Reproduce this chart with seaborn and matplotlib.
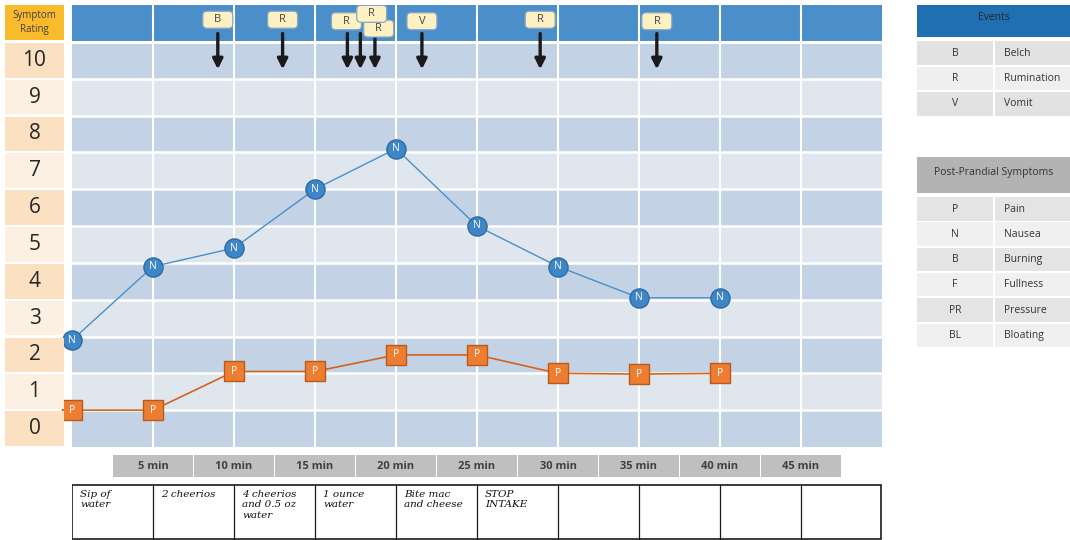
import numpy as np
import pandas as pd
import matplotlib
matplotlib.use("Agg")
import matplotlib.pyplot as plt
from matplotlib.patches import Rectangle, FancyBboxPatch
import seaborn as sns

# data
times = [0, 5, 10, 15, 20, 25, 30, 35, 40]
nausea = [2.9, 4.9, 5.4, 7.0, 8.1, 6.0, 4.9, 4.05, 4.05]
pain = [1.0, 1.0, 2.05, 2.05, 2.5, 2.5, 2.0, 1.98, 2.0]

event_times = [9, 13, 17, 17.8, 18.7, 21.6, 28.9, 36.1]
event_codes = ["B", "R", "R", "R", "R", "V", "R", "R"]

ratings = list(range(11))
time_labels = ["5 min", "10 min", "15 min", "20 min", "25 min", "30 min", "35 min", "40 min", "45 min"]
intake_notes = ["Sip of\nwater", "2 cheerios", "4 cheerios\nand 0.5 oz\nwater", "1 ounce\nwater",
                "Bite mac\nand cheese", "STOP\nINTAKE", "", "", "", ""]

event_legend = [("B", "Belch"), ("R", "Rumination"), ("V", "Vomit")]
symptom_legend = [("P", "Pain"), ("N", "Nausea"), ("B", "Burning"), ("F", "Fullness"),
                  ("PR", "Pressure"), ("BL", "Bloating")]

df = pd.DataFrame({"time": times, "Nausea": nausea, "Pain": pain})

sns.set_theme(style="white")
plt.rcParams["font.family"] = ["Open Sans", "DejaVu Sans"]

W, H = 1070, 540
fig = plt.figure(figsize=(10.7, 5.4), dpi=100)


def px_axes(x0, y0, x1, y1):
    return fig.add_axes([x0 / W, 1 - y1 / H, (x1 - x0) / W, (y1 - y0) / H])


# ---- main chart ----
ax = px_axes(72, 5, 882, 447)
ax.set_xlim(0, 50)
ax.set_ylim(0, 12)
dark_row, light_row = "#c3d3e5", "#dfe6ee"
for r in ratings:
    ax.axhspan(r, r + 1, color=dark_row if r % 2 == 0 else light_row, lw=0, zorder=0)
ax.axhspan(11, 12, color="#4a8fc9", lw=0, zorder=0)
for r in range(1, 12):
    ax.axhline(r, color="white", lw=2.2 if r == 11 else 1.8, zorder=1)
for t in range(5, 50, 5):
    ax.axvline(t, color="white", lw=1.5, zorder=1)

sns.lineplot(data=df, x="time", y="Nausea", ax=ax, color="#4a8fc9", lw=1, zorder=2)
sns.lineplot(data=df, x="time", y="Pain", ax=ax, color="#d4631c", lw=1.2, zorder=2)
sns.scatterplot(data=df, x="time", y="Nausea", ax=ax, marker="o", s=190, color="#3f86c6",
                edgecolor="#2d6aa3", linewidth=1, zorder=3, clip_on=False)
sns.scatterplot(data=df, x="time", y="Pain", ax=ax, marker="s", s=210, color="#ed7d31",
                edgecolor="#b85a1c", linewidth=1, zorder=3, clip_on=False)
for t, n, p in zip(times, nausea, pain):
    ax.text(t, n, "N", color="white", fontsize=7.5, ha="center", va="center", zorder=4)
    ax.text(t, p, "P", color="white", fontsize=7.5, ha="center", va="center", zorder=4)

# events: arrows with labels
label_dx = [0, 0, -0.06, 0.7, 0.23, 0, 0, 0]
label_y = [11.6, 11.6, 11.56, 11.76, 11.36, 11.56, 11.6, 11.56]
order = [0, 1, 2, 4, 3, 5, 6, 7]
bw, bh = 1.85, 0.46  # label box size in data units (~30 x 17 px)
for i in order:
    t = event_times[i]
    ax.annotate("", xy=(t, 10.18), xytext=(t, 11.3),
                arrowprops=dict(arrowstyle="-|>", color="#1a1a1a", lw=2.4, mutation_scale=15),
                zorder=5)
    cx, cy = t + label_dx[i], label_y[i]
    ax.add_patch(FancyBboxPatch((cx - bw / 2, cy - bh / 2), bw, bh,
                                boxstyle="round,pad=0,rounding_size=0.25", mutation_aspect=0.44,
                                fc="#fdf1c4", ec="#8aa6c2", lw=0.9, zorder=6))
    ax.text(cx, cy, event_codes[i], fontsize=8, color="#444444",
            ha="center", va="center", zorder=7)
ax.set_xlabel("")
ax.set_ylabel("")
ax.set_xticks([])
ax.set_yticks([])
for s in ax.spines.values():
    s.set_visible(False)

# ---- symptom rating column ----
axr = px_axes(5, 5, 64, 447)
axr.set_xlim(0, 1)
axr.set_ylim(0, 12)
for r in ratings:
    axr.add_patch(Rectangle((0, r + 0.03), 1, 0.94, color="#fce0c2" if r % 2 == 0 else "#fbf0e1", lw=0))
    axr.text(0.5, r + 0.5, str(r), ha="center", va="center", fontsize=15, color="#262626")
axr.add_patch(Rectangle((0, 11.05), 1, 0.95, color="#f9bb2c", lw=0))
axr.text(0.5, 11.52, "Symptom\nRating", ha="center", va="center", fontsize=7,
         color="#404040", linespacing=1.3)
axr.axis("off")

# ---- time labels and intake table ----
axb = px_axes(72, 450, 882, 540)
axb.set_xlim(0, 50)
axb.set_ylim(90, 0)
for t, lab in zip(range(5, 50, 5), time_labels):
    axb.add_patch(Rectangle((t - 2.45, 5), 4.9, 22, color="#bfbfbf", lw=0))
    axb.text(t, 16.5, lab, ha="center", va="center", fontsize=8, fontweight="bold", color="#404040")
axb.add_patch(Rectangle((0, 35), 49.95, 54, fill=False, ec="#1a1a1a", lw=1.2))
for t in range(5, 50, 5):
    axb.plot([t, t], [35, 89], color="#1a1a1a", lw=0.9)
for i, note in enumerate(intake_notes):
    axb.text(i * 5 + 0.5, 40, note, ha="left", va="top", fontsize=7.5, color="#111111",
             family=["DejaVu Serif"], style="italic", linespacing=1.2)
axb.axis("off")

# ---- legends on the right ----
axl = px_axes(917, 0, 1070, 350)
axl.set_xlim(0, 153)
axl.set_ylim(350, 0)
axl.add_patch(Rectangle((0, 5), 153, 32, color="#1f6fb2", lw=0))
axl.text(76.5, 18, "Events", ha="center", va="center", fontsize=7.5, color="#262626")
y = 41
for i, (code, name) in enumerate(event_legend):
    c = "#e2e2e2" if i % 2 == 0 else "#efefef"
    axl.add_patch(Rectangle((0, y), 76, 23.5, color=c, lw=0))
    axl.add_patch(Rectangle((78, y), 75, 23.5, color=c, lw=0))
    axl.text(38, y + 12, code, ha="center", va="center", fontsize=7.5, color="#333333")
    axl.text(87, y + 12, name, ha="left", va="center", fontsize=7.5, color="#333333")
    y += 25.5

axl.add_patch(Rectangle((0, 157), 153, 36, color="#b3b3b3", lw=0))
axl.text(76.5, 173, "Post-Prandial Symptoms", ha="center", va="center", fontsize=7.5, color="#333333")
y = 197
for i, (code, name) in enumerate(symptom_legend):
    c = "#e4e4e4" if i % 2 == 0 else "#f0f0f0"
    axl.add_patch(Rectangle((0, y), 76, 23.5, color=c, lw=0))
    axl.add_patch(Rectangle((78, y), 75, 23.5, color=c, lw=0))
    axl.text(38, y + 12, code, ha="center", va="center", fontsize=7.5, color="#333333")
    axl.text(87, y + 12, name, ha="left", va="center", fontsize=7.5, color="#333333")
    y += 25.3
axl.axis("off")

fig.savefig("out.png", dpi=100)
